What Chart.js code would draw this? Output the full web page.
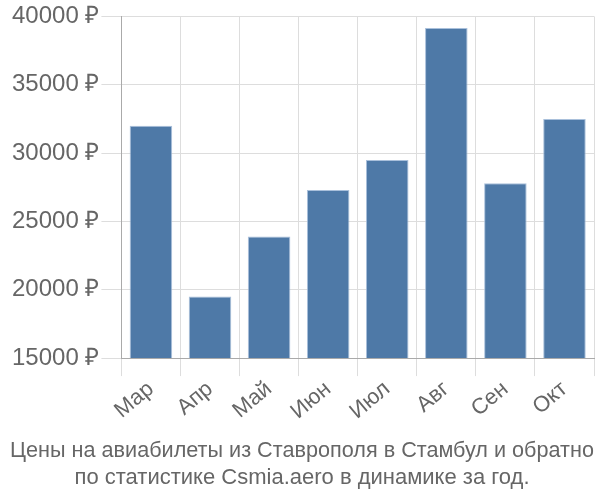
<!DOCTYPE html>
<html>
<head>
<meta charset="utf-8">
<script src="https://cdn.jsdelivr.net/npm/chart.js@4"></script>
<style>
  html, body { margin: 0; padding: 0; background: #fff; }
  #wrap { width: 600px; height: 500px; }
</style>
</head>
<body>
<div id="wrap"><canvas id="myChart"></canvas></div>
<script>
var months = ['Мар', 'Апр', 'Май', 'Июн', 'Июл', 'Авг', 'Сен', 'Окт'];
var prices = [32000, 19500, 23900, 27300, 29500, 39150, 27800, 32500];
var yTicks = [15000, 20000, 25000, 30000, 35000, 40000];

Chart.defaults.font.family = '"Liberation Sans", Arial, sans-serif';
Chart.defaults.color = '#666';

var ctx = document.getElementById('myChart').getContext('2d');
var myChart = new Chart(ctx, {
    type: 'bar',
    data: {
        labels: months,
        datasets: [{
            data: prices,
            backgroundColor: '#4e79a7',
            borderColor: 'rgba(160,185,215,0.9)',
            borderWidth: 1,
            barPercentage: 0.72,
            categoryPercentage: 1
        }]
    },
    options: {
        responsive: true,
        maintainAspectRatio: false,
        animation: false,
        layout: { padding: { top: 6, right: 6, left: 10, bottom: 0 } },
        plugins: {
            legend: { display: false },
            tooltip: { enabled: false },
            title: {
                display: true,
                position: 'bottom',
                text: ['Цены на авиабилеты из Ставрополя в Стамбул и обратно', 'по статистике Csmia.aero в динамике за год.'],
                font: { size: 22, weight: 'normal', lineHeight: 1.25 },
                color: '#666',
                padding: { top: 12, bottom: 8 }
            }
        },
        scales: {
            x: {
                grid: { color: '#ddd', offset: true, tickLength: 18 },
                border: { color: '#aaa' },
                ticks: { font: { size: 22 }, maxRotation: 40, minRotation: 40, color: '#666', padding: 0 }
            },
            y: {
                min: yTicks[0],
                max: yTicks[yTicks.length - 1],
                afterBuildTicks: function (axis) {
                    axis.ticks = yTicks.map(function (v) { return { value: v }; });
                },
                grid: { color: '#ddd', tickLength: 20 },
                border: { color: '#aaa' },
                ticks: {
                    font: { size: 24 },
                    color: '#666',
                    padding: 2,
                    callback: function (v) { return v + ' ₽'; }
                }
            }
        }
    }
});
</script>
</body>
</html>
